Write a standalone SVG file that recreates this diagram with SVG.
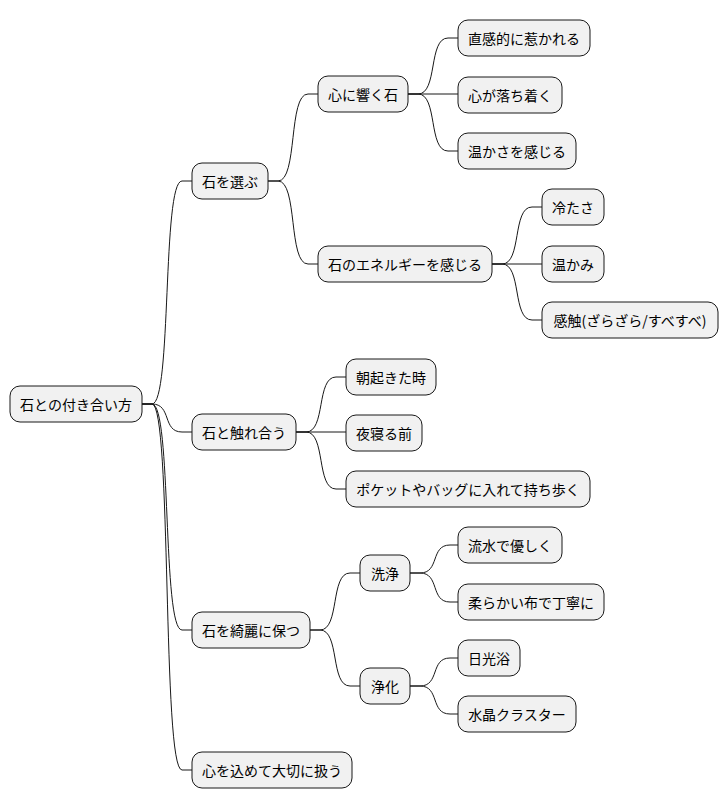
<svg xmlns="http://www.w3.org/2000/svg" width="728" height="809" viewBox="0 0 728 809">
<style>
.n rect{fill:#F1F1F1;stroke:#181818;stroke-width:1}
.n text{font-family:"Noto Sans CJK JP","Liberation Sans",sans-serif;font-size:14px;fill:#000;text-anchor:middle;dominant-baseline:central}
.c path{fill:none;stroke:#181818;stroke-width:1}
</style>
<rect width="728" height="809" fill="#fff"/>
<g class="c">
<path d="M142,404 L152,404 C172,404 162,181 182,181 L192,181"/>
<path d="M142,404 L152,404 C172,404 162,432 182,432 L192,432"/>
<path d="M142,404 L152,404 C172,404 162,630 182,630 L192,630"/>
<path d="M142,404 L152,404 C172,404 162,770 182,770 L192,770"/>
<path d="M268,181 L278,181 C298,181 288,94 308,94 L318,94"/>
<path d="M268,181 L278,181 C298,181 288,264 308,264 L318,264"/>
<path d="M408,94 L418,94 C438,94 428,38 448,38 L458,38"/>
<path d="M408,94 L458,94"/>
<path d="M408,94 L418,94 C438,94 428,151 448,151 L458,151"/>
<path d="M492,264 L502,264 C522,264 512,207 532,207 L542,207"/>
<path d="M492,264 L542,264"/>
<path d="M492,264 L502,264 C522,264 512,320 532,320 L542,320"/>
<path d="M296,432 L306,432 C326,432 316,377 336,377 L346,377"/>
<path d="M296,432 L346,432"/>
<path d="M296,432 L306,432 C326,432 316,489 336,489 L346,489"/>
<path d="M310,630 L320,630 C340,630 330,573 350,573 L360,573"/>
<path d="M310,630 L320,630 C340,630 330,686 350,686 L360,686"/>
<path d="M410,573 L420,573 C440,573 430,545 450,545 L458,545"/>
<path d="M410,573 L420,573 C440,573 430,602 450,602 L458,602"/>
<path d="M410,686 L420,686 C440,686 430,658 450,658 L458,658"/>
<path d="M410,686 L420,686 C440,686 430,714 450,714 L458,714"/>
</g>
<g id="root" class="n"><rect x="10" y="386" width="132" height="36" rx="10"/><text x="76" y="404">石との付き合い方</text></g>
<g id="n1" class="n"><rect x="192" y="163" width="76" height="36" rx="10"/><text x="230" y="181">石を選ぶ</text></g>
<g id="n11" class="n"><rect x="318" y="76" width="90" height="36" rx="10"/><text x="363" y="94">心に響く石</text></g>
<g id="n111" class="n"><rect x="458" y="20" width="132" height="36" rx="10"/><text x="524" y="38">直感的に惹かれる</text></g>
<g id="n112" class="n"><rect x="458" y="77" width="104" height="36" rx="10"/><text x="510" y="95">心が落ち着く</text></g>
<g id="n113" class="n"><rect x="458" y="133" width="118" height="36" rx="10"/><text x="517" y="151">温かさを感じる</text></g>
<g id="n12" class="n"><rect x="318" y="246" width="174" height="36" rx="10"/><text x="405" y="264">石のエネルギーを感じる</text></g>
<g id="n121" class="n"><rect x="542" y="189" width="62" height="36" rx="10"/><text x="573" y="207">冷たさ</text></g>
<g id="n122" class="n"><rect x="542" y="246" width="62" height="36" rx="10"/><text x="573" y="264">温かみ</text></g>
<g id="n123" class="n"><rect x="542" y="302" width="176" height="36" rx="10"/><text x="630" y="320">感触(ざらざら/すべすべ)</text></g>
<g id="n2" class="n"><rect x="192" y="414" width="104" height="36" rx="10"/><text x="244" y="432">石と触れ合う</text></g>
<g id="n21" class="n"><rect x="346" y="359" width="90" height="36" rx="10"/><text x="391" y="377">朝起きた時</text></g>
<g id="n22" class="n"><rect x="346" y="415" width="76" height="36" rx="10"/><text x="384" y="433">夜寝る前</text></g>
<g id="n23" class="n"><rect x="346" y="471" width="244" height="36" rx="10"/><text x="468" y="489">ポケットやバッグに入れて持ち歩く</text></g>
<g id="n3" class="n"><rect x="192" y="612" width="118" height="36" rx="10"/><text x="251" y="630">石を綺麗に保つ</text></g>
<g id="n31" class="n"><rect x="360" y="555" width="50" height="36" rx="10"/><text x="385" y="573">洗浄</text></g>
<g id="n311" class="n"><rect x="458" y="527" width="104" height="36" rx="10"/><text x="510" y="545">流水で優しく</text></g>
<g id="n312" class="n"><rect x="458" y="584" width="146" height="36" rx="10"/><text x="531" y="602">柔らかい布で丁寧に</text></g>
<g id="n32" class="n"><rect x="360" y="668" width="50" height="36" rx="10"/><text x="385" y="686">浄化</text></g>
<g id="n321" class="n"><rect x="458" y="640" width="62" height="36" rx="10"/><text x="489" y="658">日光浴</text></g>
<g id="n322" class="n"><rect x="458" y="696" width="118" height="36" rx="10"/><text x="517" y="714">水晶クラスター</text></g>
<g id="n4" class="n"><rect x="192" y="752" width="160" height="36" rx="10"/><text x="272" y="770">心を込めて大切に扱う</text></g>
</svg>
